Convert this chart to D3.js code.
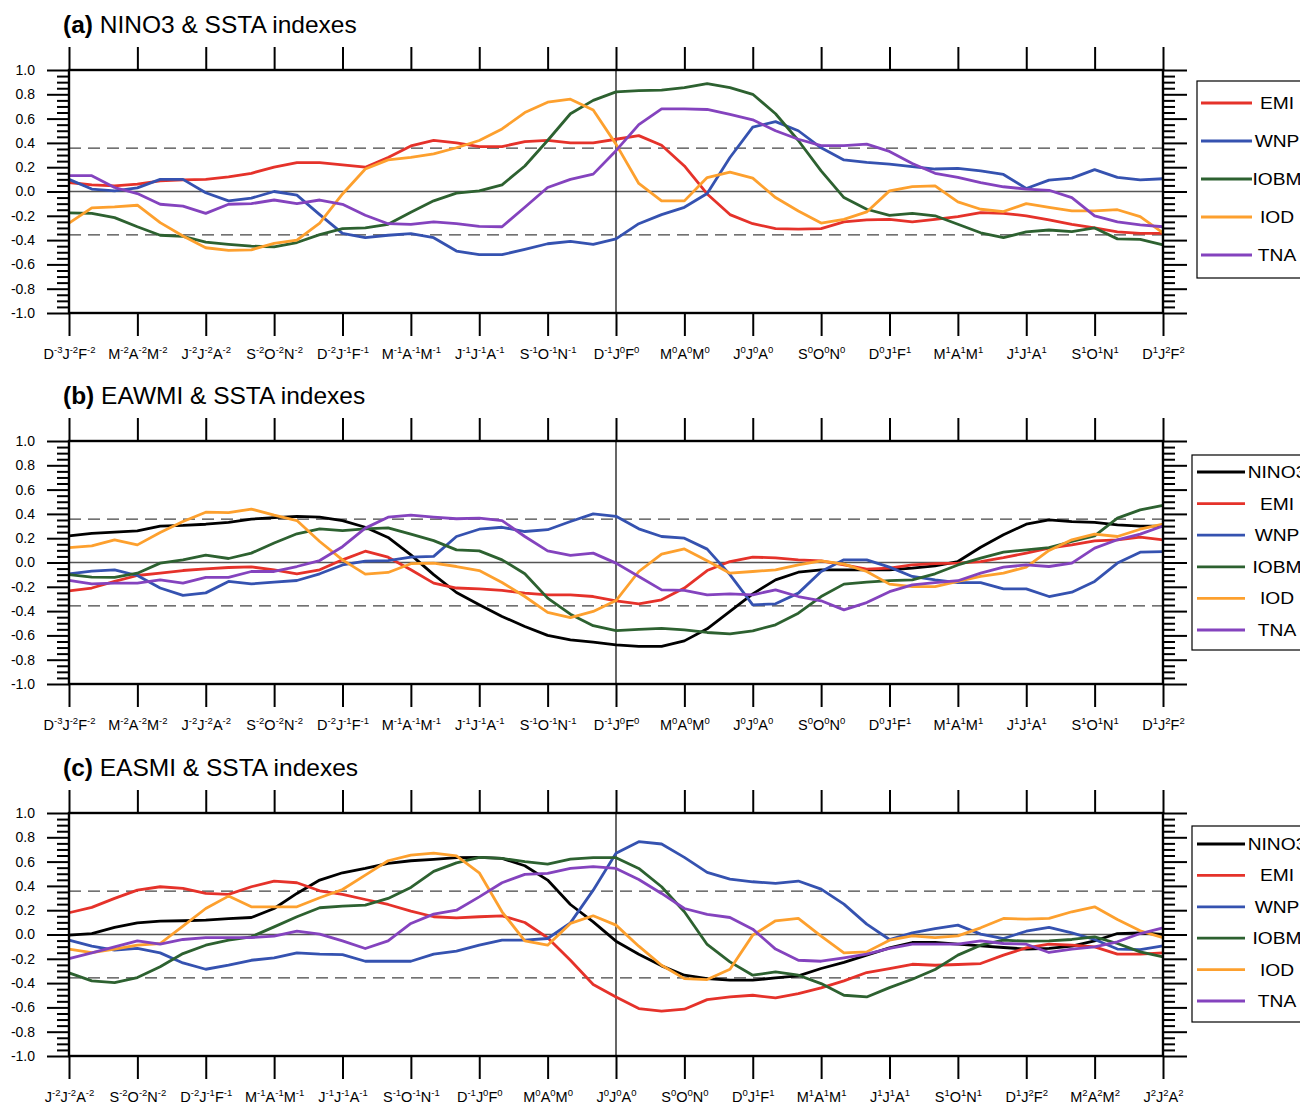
<!DOCTYPE html>
<html>
<head>
<meta charset="utf-8">
<script src="https://cdn.jsdelivr.net/npm/d3@7"></script>
<style>
body { margin: 0; background: #fff; }
svg { display: block; font-family: "Liberation Sans", Arial, Helvetica, sans-serif; }
</style>
</head>
<body>
<svg class="viz" width="1300" height="1107"></svg>
<script>
// *** Data (49 monthly points per index) ***
const ticksAB = ["D-3J-2F-2", "M-2A-2M-2", "J-2J-2A-2", "S-2O-2N-2", "D-2J-1F-1", "M-1A-1M-1",
	"J-1J-1A-1", "S-1O-1N-1", "D-1J0F0", "M0A0M0", "J0J0A0", "S0O0N0", "D0J1F1", "M1A1M1",
	"J1J1A1", "S1O1N1", "D1J2F2"];
const ticksC = ["J-2J-2A-2", "S-2O-2N-2", "D-2J-1F-1", "M-1A-1M-1", "J-1J-1A-1", "S-1O-1N-1",
	"D-1J0F0", "M0A0M0", "J0J0A0", "S0O0N0", "D0J1F1", "M1A1M1", "J1J1A1", "S1O1N1",
	"D1J2F2", "M2A2M2", "J2J2A2"];
const yTicks = [1.0, 0.8, 0.6, 0.4, 0.2, 0.0, -0.2, -0.4, -0.6, -0.8, -1.0];
const sigLevel = 0.357;   // dashed significance lines
const centreMonth = 24;   // vertical reference line

const titles = ["NINO3 & SSTA indexes", "EAWMI & SSTA indexes", "EASMI & SSTA indexes"];
const namesA = ["EMI", "WNP", "IOBM", "IOD", "TNA"];
const namesBC = ["NINO3", "EMI", "WNP", "IOBM", "IOD", "TNA"];

// (a) NINO3 & SSTA
const emiA = [.074,.055,.047,.06,.088,.096,.10,.12,.15,.20,.237,.237,.22,.20,.28,.375,.42,.40,.37,.37,.41,.42,.40,.40,.43,.46,.38,.21,-.02,-.19,-.265,-.305,-.31,-.305,-.25,-.234,-.23,-.25,-.23,-.207,-.174,-.18,-.20,-.234,-.27,-.30,-.333,-.344,-.344];
const wnpA = [.10,.02,.005,.03,.10,.10,-.01,-.077,-.055,0,-.03,-.19,-.345,-.38,-.36,-.347,-.38,-.49,-.52,-.52,-.476,-.43,-.41,-.435,-.39,-.265,-.19,-.13,-.017,.28,.53,.575,.50,.36,.26,.24,.226,.204,.185,.19,.17,.14,.025,.094,.11,.18,.116,.096,.105];
const iobmA = [-.176,-.18,-.215,-.29,-.36,-.37,-.416,-.435,-.45,-.455,-.42,-.355,-.305,-.30,-.27,-.17,-.077,-.014,.005,.055,.21,.42,.64,.75,.82,.83,.835,.855,.887,.855,.80,.64,.42,.17,-.05,-.146,-.196,-.18,-.20,-.27,-.34,-.38,-.333,-.317,-.33,-.30,-.39,-.394,-.44];
const iodA = [-.26,-.135,-.127,-.113,-.256,-.366,-.463,-.485,-.48,-.427,-.40,-.26,-.02,.185,.26,.28,.31,.36,.42,.515,.65,.735,.76,.67,.39,.066,-.077,-.077,.115,.16,.11,-.05,-.16,-.26,-.23,-.168,.005,.04,.047,-.085,-.146,-.165,-.10,-.13,-.16,-.16,-.15,-.207,-.34];
const tnaA = [.13,.13,.033,-.017,-.105,-.12,-.18,-.105,-.10,-.07,-.10,-.07,-.105,-.195,-.265,-.27,-.25,-.265,-.287,-.29,-.13,.033,.10,.143,.336,.55,.68,.68,.675,.634,.59,.50,.43,.377,.377,.39,.33,.23,.15,.116,.074,.039,.02,.01,-.05,-.20,-.25,-.275,-.29];

// (b) EAWMI & SSTA
const nino3B = [.22,.24,.25,.26,.30,.305,.315,.33,.357,.37,.38,.373,.345,.29,.206,.063,-.10,-.247,-.348,-.444,-.527,-.60,-.636,-.656,-.678,-.69,-.69,-.645,-.546,-.403,-.258,-.143,-.08,-.06,-.06,-.06,-.06,-.047,-.027,.008,.126,.228,.315,.351,.337,.33,.31,.30,.30];
const emiB = [-.233,-.21,-.156,-.107,-.088,-.066,-.052,-.041,-.036,-.06,-.093,-.06,.022,.093,.044,-.06,-.17,-.21,-.217,-.23,-.252,-.266,-.266,-.28,-.315,-.34,-.307,-.21,-.066,.008,.044,.038,.022,.014,-.02,-.055,-.047,-.02,-.01,-.005,.008,.04,.077,.118,.145,.178,.187,.208,.187];
const wnpB = [-.093,-.071,-.06,-.107,-.21,-.27,-.25,-.156,-.176,-.162,-.148,-.093,-.02,.011,.016,.044,.05,.214,.274,.29,.255,.27,.337,.40,.38,.277,.214,.20,.11,-.10,-.348,-.34,-.252,-.074,.022,.022,-.038,-.115,-.143,-.165,-.165,-.217,-.217,-.28,-.244,-.156,-.005,.085,.09];
const iobmB = [-.10,-.12,-.123,-.088,-.005,.022,.06,.033,.077,.16,.236,.277,.263,.277,.285,.233,.18,.104,.096,.022,-.093,-.293,-.425,-.52,-.56,-.55,-.543,-.554,-.576,-.587,-.562,-.513,-.417,-.28,-.178,-.162,-.15,-.143,-.093,-.02,.036,.085,.104,.123,.173,.22,.365,.433,.47];
const iodB = [.123,.137,.187,.145,.247,.337,.414,.41,.44,.39,.345,.173,.022,-.096,-.082,-.01,-.005,-.033,-.066,-.165,-.28,-.41,-.453,-.403,-.313,-.074,.069,.112,.014,-.088,-.074,-.06,-.02,.014,-.014,-.074,-.178,-.198,-.198,-.156,-.115,-.088,-.038,.099,.187,.233,.214,.274,.315];
const tnaB = [-.148,-.176,-.17,-.17,-.143,-.17,-.123,-.123,-.074,-.074,-.033,.016,.13,.283,.373,.39,.373,.36,.365,.345,.214,.096,.058,.077,-.005,-.115,-.225,-.23,-.266,-.258,-.266,-.225,-.28,-.315,-.39,-.33,-.24,-.184,-.165,-.15,-.088,-.038,-.02,-.033,-.005,.118,.187,.233,.30];

// (c) EASMI & SSTA
const nino3C = [-.005,.008,.058,.096,.11,.113,.118,.13,.14,.214,.338,.448,.508,.544,.585,.607,.618,.632,.635,.626,.566,.448,.247,.104,-.055,-.162,-.258,-.335,-.363,-.376,-.376,-.357,-.34,-.28,-.23,-.17,-.11,-.066,-.066,-.08,-.093,-.107,-.12,-.115,-.096,-.052,.008,.014,0];
const emiC = [.179,.223,.297,.365,.393,.38,.338,.33,.393,.44,.426,.36,.33,.288,.247,.192,.146,.137,.146,.154,.099,-.027,-.212,-.412,-.514,-.61,-.63,-.615,-.536,-.514,-.50,-.522,-.486,-.44,-.382,-.313,-.28,-.245,-.253,-.247,-.239,-.17,-.11,-.08,-.088,-.102,-.162,-.162,-.151];
const wnpC = [-.047,-.096,-.129,-.115,-.151,-.234,-.286,-.253,-.212,-.192,-.151,-.162,-.165,-.22,-.22,-.22,-.162,-.137,-.088,-.047,-.047,-.033,.096,.365,.668,.764,.745,.635,.511,.456,.434,.42,.44,.374,.25,.085,-.041,.014,.049,.077,.003,-.033,.027,.058,.014,-.041,-.12,-.124,-.093];
const iobmC = [-.316,-.382,-.396,-.354,-.266,-.157,-.088,-.047,-.019,.063,.146,.22,.234,.242,.297,.387,.52,.59,.635,.626,.60,.58,.62,.632,.632,.544,.393,.187,-.082,-.225,-.335,-.308,-.335,-.404,-.50,-.514,-.437,-.368,-.288,-.17,-.088,-.047,-.055,-.052,-.041,-.019,-.074,-.143,-.184];
const iodC = [-.12,-.15,-.12,-.088,-.074,.069,.214,.316,.228,.228,.228,.302,.37,.489,.607,.654,.67,.648,.508,.187,-.052,-.088,.091,.154,.077,-.096,-.253,-.363,-.371,-.286,-.005,.113,.132,-.014,-.151,-.143,-.047,-.011,-.025,-.011,.055,.132,.126,.132,.187,.228,.124,.03,-.025];
const tnaC = [-.198,-.151,-.102,-.052,-.08,-.041,-.025,-.025,-.025,-.014,.027,.003,-.052,-.115,-.052,.091,.168,.20,.31,.426,.495,.503,.544,.558,.544,.453,.338,.214,.165,.14,.044,-.12,-.212,-.22,-.192,-.162,-.115,-.08,-.08,-.08,-.052,-.074,-.08,-.148,-.12,-.102,-.06,.008,.055];

const colors = { NINO3: "#000000", EMI: "#e5322a", WNP: "#3552b0", IOBM: "#2d6130", IOD: "#fda02e", TNA: "#8443be" };

// *** Layout ***
const plotLeft = 69;
const plotRight = 1163;
const plotHght = 243;

let svg = d3.select(".viz");

function tickLabel(sel, str) {
	// "D-3J-2F-2" -> D with superscript -3, etc.
	let txt = sel.append("text")
		.attr("y", 46)
		.attr("text-anchor", "middle")
		.attr("fill", "#000")
		.style("font-size", "14.5px");
	let parts = [...str.matchAll(/([A-Z])(-?\d)/g)];
	parts.forEach((p, k) => {
		txt.append("tspan").attr("dy", k > 0 ? 6 : 0).text(p[1]);
		txt.append("tspan").attr("dy", -6).style("font-size", "9.5px").text(p[2]);
	});
}

function drawPanel(cfg) {
	let top = cfg.top;
	let x = d3.scaleLinear().domain([0, cfg.series[0].length - 1]).range([plotLeft, plotRight]);
	let y = d3.scaleLinear().domain([-1, 1]).range([top + plotHght, top]);
	let g = svg.append("g");

	let xMajor = d3.range(0, cfg.series[0].length, 3);
	let yMinor = d3.range(-20, 21).map(v => v * 0.05).filter((v, k) => (k % 4) !== 0);

	// title
	let ttl = g.append("text")
		.attr("x", 63)
		.attr("y", top - 37)
		.style("font-size", "24.5px")
		.attr("fill", "#000");
	ttl.append("tspan").style("font-weight", "bold").text("(" + cfg.tag + ")");
	ttl.append("tspan").text(" " + cfg.title);

	// reference lines
	g.append("line")
		.attr("x1", plotLeft).attr("x2", plotRight)
		.attr("y1", y(0)).attr("y2", y(0))
		.attr("stroke", "#555").attr("stroke-width", 1.3);
	[sigLevel, -sigLevel].forEach(v => {
		g.append("line")
			.attr("x1", plotLeft).attr("x2", plotRight)
			.attr("y1", y(v)).attr("y2", y(v))
			.attr("stroke", "#444").attr("stroke-width", 1.3)
			.attr("stroke-dasharray", "12,7");
	});
	g.append("line")
		.attr("x1", x(centreMonth)).attr("x2", x(centreMonth))
		.attr("y1", top).attr("y2", top + plotHght)
		.attr("stroke", "#000").attr("stroke-width", 1.2);

	// series
	let line = d3.line()
		.x((d, i) => x(i))
		.y((d) => y(d));
	cfg.names.forEach((nm, k) => {
		g.append("path")
			.attr("d", line(cfg.series[k]))
			.attr("fill", "none")
			.attr("stroke", colors[nm])
			.attr("stroke-width", 2.8)
			.attr("stroke-linejoin", "round");
	});

	// axes
	let left = g.append("g").attr("transform", "translate(" + plotLeft + ",0)")
		.call(d3.axisLeft(y).tickValues(yTicks).tickSize(22).tickPadding(12)
			.tickFormat(d => d.toFixed(1)));
	left.selectAll("text").style("font-size", "14px").attr("fill", "#000");
	g.append("g").attr("transform", "translate(" + plotLeft + ",0)")
		.call(d3.axisLeft(y).tickValues(yMinor).tickSize(12).tickFormat(""));
	g.append("g").attr("transform", "translate(" + plotRight + ",0)")
		.call(d3.axisRight(y).tickValues(yTicks).tickSize(24).tickFormat(""));
	g.append("g").attr("transform", "translate(" + plotRight + ",0)")
		.call(d3.axisRight(y).tickValues(yMinor).tickSize(12).tickFormat(""));
	g.append("g").attr("transform", "translate(0," + top + ")")
		.call(d3.axisTop(x).tickValues(xMajor).tickSize(23).tickFormat(""));
	let bottom = g.append("g").attr("transform", "translate(0," + (top + plotHght) + ")")
		.call(d3.axisBottom(x).tickValues(xMajor).tickSize(23).tickFormat(""));
	bottom.selectAll(".tick").each(function(d, k) {
		tickLabel(d3.select(this), cfg.ticks[k]);
	});
	g.selectAll(".domain").remove();
	g.selectAll(".tick line").attr("stroke", "#000").attr("stroke-width", 2);

	g.append("rect")
		.attr("x", plotLeft).attr("y", top)
		.attr("width", plotRight - plotLeft).attr("height", plotHght)
		.attr("fill", "none").attr("stroke", "#000").attr("stroke-width", 2.4);

	// legend (runs off the right edge as in the original)
	let lg = cfg.legend;
	g.append("rect")
		.attr("x", lg.x).attr("y", lg.y)
		.attr("width", 200).attr("height", lg.h)
		.attr("fill", "#fff").attr("stroke", "#000").attr("stroke-width", 1.2);
	cfg.names.forEach((nm, k) => {
		let ry = lg.row0 + k * lg.step;
		g.append("line")
			.attr("x1", lg.x0).attr("x2", lg.x1)
			.attr("y1", ry).attr("y2", ry)
			.attr("stroke", colors[nm]).attr("stroke-width", 2.8);
		g.append("text")
			.attr("transform", "translate(" + lg.tx + "," + (ry + 6) + ") scale(1.2,1)")
			.attr("text-anchor", "middle")
			.style("font-size", "16px")
			.attr("fill", "#000")
			.text(nm);
	});
}

drawPanel({ top: 70, tag: "a", title: titles[0], names: namesA,
	series: [emiA, wnpA, iobmA, iodA, tnaA], ticks: ticksAB,
	legend: { x: 1197, y: 81, h: 197, row0: 103, step: 38, x0: 1201, x1: 1252, tx: 1277 } });
drawPanel({ top: 441, tag: "b", title: titles[1], names: namesBC,
	series: [nino3B, emiB, wnpB, iobmB, iodB, tnaB], ticks: ticksAB,
	legend: { x: 1192, y: 455, h: 195, row0: 472, step: 31.6, x0: 1197, x1: 1245, tx: 1277 } });
drawPanel({ top: 813, tag: "c", title: titles[2], names: namesBC,
	series: [nino3C, emiC, wnpC, iobmC, iodC, tnaC], ticks: ticksC,
	legend: { x: 1192, y: 826, h: 196, row0: 844, step: 31.4, x0: 1197, x1: 1245, tx: 1277 } });
</script>
</body>
</html>
